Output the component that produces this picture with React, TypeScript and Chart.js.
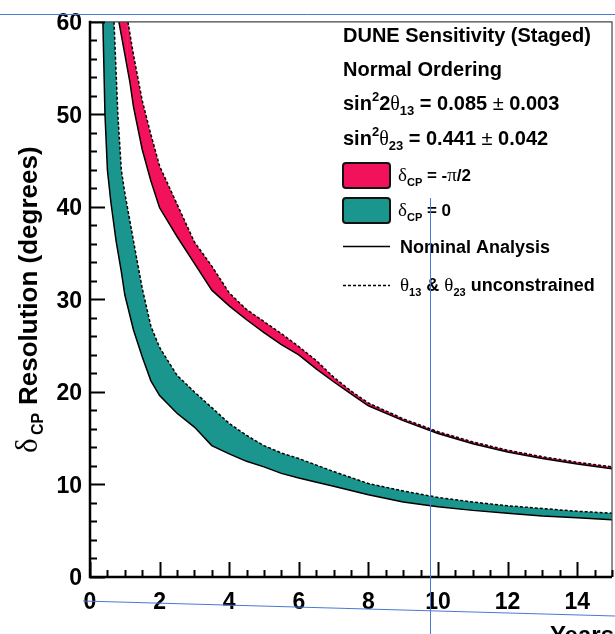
import React, { useEffect, useRef } from "react";
import { Chart, registerables } from "chart.js";
Chart.register(...registerables);

// ---- data (years vs delta_CP resolution in degrees) ----
const tealNominalX = [0.37, 0.43, 0.5, 0.6, 0.75, 0.9, 1.0, 1.25, 1.5, 1.75, 2.0, 2.5, 3.0, 3.5, 4.0, 4.5, 5.0, 5.5, 6.0, 7.0, 8.0, 9.0, 10.0, 11.0, 12.0, 13.0, 14.0, 15.0];
const tealNominalY = [60, 50, 44, 40.5, 36.3, 33, 30.5, 26.7, 23.8, 21.2, 19.6, 17.7, 16.2, 14.2, 13.3, 12.5, 11.9, 11.2, 10.7, 9.8, 8.9, 8.1, 7.6, 7.2, 6.9, 6.6, 6.4, 6.2];

const tealUnconX = [0.69, 0.8, 0.9, 1.0, 1.25, 1.5, 1.75, 2.0, 2.5, 3.0, 3.5, 4.0, 4.5, 5.0, 5.5, 6.0, 7.0, 8.0, 9.0, 10.0, 11.0, 12.0, 13.0, 14.0, 15.0];
const tealUnconY = [60, 50, 44, 41.5, 36.3, 31.2, 27.1, 24.8, 21.8, 20.0, 18.3, 16.6, 15.3, 14.2, 13.4, 12.8, 11.4, 10.1, 9.3, 8.6, 8.1, 7.7, 7.4, 7.1, 6.9];

const pinkNominalX = [0.83, 1.0, 1.15, 1.25, 1.5, 1.75, 2.0, 2.5, 3.0, 3.5, 4.0, 4.5, 5.0, 5.5, 6.0, 6.5, 7.0, 7.5, 8.0, 9.0, 10.0, 11.0, 12.0, 13.0, 14.0, 15.0];
const pinkNominalY = [60, 56.5, 53.4, 50.8, 46.2, 42.8, 39.9, 36.8, 33.9, 31.0, 29.3, 27.8, 26.4, 25.1, 24.0, 22.5, 21.1, 19.8, 18.5, 16.9, 15.5, 14.4, 13.5, 12.8, 12.2, 11.7];

const pinkUnconX = [1.09, 1.25, 1.5, 1.75, 2.0, 2.5, 3.0, 3.5, 4.0, 4.5, 5.0, 5.5, 6.0, 6.5, 7.0, 7.5, 8.0, 9.0, 10.0, 11.0, 12.0, 13.0, 14.0, 15.0];
const pinkUnconY = [60, 56.4, 51.5, 47.8, 44.4, 40.3, 36.2, 33.6, 30.7, 28.9, 27.6, 26.3, 24.9, 23.4, 21.6, 20.1, 18.8, 17.1, 15.7, 14.6, 13.7, 13.0, 12.4, 11.9];

const xTickValues = [0, 2, 4, 6, 8, 10, 12, 14];
const yTickValues = [0, 10, 20, 30, 40, 50, 60];
const X_MIN = 0, X_MAX = 15, Y_MIN = 0, Y_MAX = 60;
const X_MINOR_STEP = 0.5, Y_MINOR_STEP = 2;

const headerLines = ["DUNE Sensitivity (Staged)", "Normal Ordering"];
const legendNominal = "Nominal Analysis";

const PINK = "#f2125c";
const TEAL = "#1a968f";
const SANS = '"Liberation Sans", Arial, Helvetica, sans-serif';
const SERIF = '"Liberation Serif", "Times New Roman", serif';

type Part = { t: string; font: string; dy?: number; dx?: number };
function drawRich(ctx: CanvasRenderingContext2D, x: number, y: number, parts: Part[]) {
  let cx = x;
  for (const p of parts) {
    ctx.font = p.font;
    cx += p.dx || 0;
    ctx.fillText(p.t, cx, y + (p.dy || 0));
    cx += ctx.measureText(p.t).width;
  }
}

const toPts = (xs: number[], ys: number[]) => xs.map((x, i) => ({ x, y: ys[i] }));

const decorPlugin = {
  id: "decor",
  afterDraw(chart: any) {
    const ctx: CanvasRenderingContext2D = chart.ctx;
    const { left, right, top, bottom } = chart.chartArea;
    const xs = chart.scales.x;
    const ys = chart.scales.y;
    ctx.save();
    // frame (top, right)
    ctx.strokeStyle = "#444";
    ctx.lineWidth = 1.2;
    ctx.beginPath();
    ctx.moveTo(left, top);
    ctx.lineTo(right, top);
    ctx.lineTo(right, bottom);
    ctx.stroke();
    // axes
    ctx.strokeStyle = "#000";
    ctx.lineWidth = 2.5;
    ctx.beginPath();
    ctx.moveTo(left, top - 1);
    ctx.lineTo(left, bottom);
    ctx.lineTo(right, bottom);
    ctx.stroke();
    // ticks inside
    ctx.lineWidth = 2;
    ctx.beginPath();
    for (let v = Y_MIN; v <= Y_MAX + 1e-9; v += Y_MINOR_STEP) {
      const py = Math.round(ys.getPixelForValue(v)) + 0.5;
      const major = yTickValues.includes(Math.round(v * 100) / 100);
      ctx.moveTo(left, py);
      ctx.lineTo(left + (major ? 15 : 7), py);
    }
    for (let v = X_MIN; v <= X_MAX + 1e-9; v += X_MINOR_STEP) {
      const px = Math.round(xs.getPixelForValue(v)) + 0.5;
      const major = xTickValues.includes(Math.round(v * 100) / 100);
      ctx.moveTo(px, bottom);
      ctx.lineTo(px, bottom - (major ? 15 : 7));
    }
    ctx.stroke();

    // axis titles
    ctx.fillStyle = "#000";
    ctx.textAlign = "left";
    ctx.textBaseline = "alphabetic";
    ctx.save();
    ctx.translate(37, 453);
    ctx.rotate(-Math.PI / 2);
    ctx.font = `31px ${SERIF}`;
    ctx.fillText("δ", 0, 0);
    ctx.font = `bold 16px ${SANS}`;
    ctx.fillText("CP", 18, 6);
    ctx.font = `bold 26px ${SANS}`;
    ctx.fillText("Resolution (degrees)", 48, 0);
    ctx.restore();

    ctx.font = `bold 24px ${SANS}`;
    ctx.textAlign = "right";
    ctx.fillText("Years", 614, 643);
    ctx.textAlign = "left";

    // legend / info block
    const lx = 343;
    const B20 = `bold 20px ${SANS}`;
    const B13 = `bold 13px ${SANS}`;
    const G20 = `20px ${SERIF}`;
    ctx.font = B20;
    ctx.fillText(headerLines[0], lx, 42);
    ctx.fillText(headerLines[1], lx, 76);
    drawRich(ctx, lx, 110, [
      { t: "sin", font: B20 },
      { t: "2", font: B13, dy: -9 },
      { t: "2", font: B20 },
      { t: "θ", font: G20 },
      { t: "13", font: B13, dy: 5 },
      { t: " = 0.085 ", font: B20 },
      { t: "±", font: `20px ${SANS}` },
      { t: " 0.003", font: B20 },
    ]);
    drawRich(ctx, lx, 145, [
      { t: "sin", font: B20 },
      { t: "2", font: B13, dy: -9 },
      { t: "θ", font: G20 },
      { t: "23", font: B13, dy: 5 },
      { t: " = 0.441 ", font: B20 },
      { t: "±", font: `20px ${SANS}` },
      { t: " 0.042", font: B20 },
    ]);

    const box = (y: number, color: string) => {
      ctx.beginPath();
      (ctx as any).roundRect ? (ctx as any).roundRect(lx, y, 47, 25, 3) : ctx.rect(lx, y, 47, 25);
      ctx.fillStyle = color;
      ctx.fill();
      ctx.lineWidth = 2;
      ctx.strokeStyle = "#111";
      ctx.stroke();
    };
    box(163, PINK);
    box(198, TEAL);
    ctx.fillStyle = "#000";
    const B17 = `bold 17px ${SANS}`;
    const B11 = `bold 11px ${SANS}`;
    const G18 = `19px ${SERIF}`;
    drawRich(ctx, 398, 181, [
      { t: "δ", font: G18 },
      { t: "CP", font: B11, dy: 5 },
      { t: " = -", font: B17 },
      { t: "π", font: G18 },
      { t: "/2", font: B17 },
    ]);
    drawRich(ctx, 398, 216, [
      { t: "δ", font: G18 },
      { t: "CP", font: B11, dy: 5 },
      { t: " = 0", font: B17 },
    ]);
    ctx.strokeStyle = "#000";
    ctx.lineWidth = 1.5;
    ctx.beginPath();
    ctx.moveTo(lx, 246.5);
    ctx.lineTo(lx + 47, 246.5);
    ctx.stroke();
    ctx.setLineDash([3, 2]);
    ctx.beginPath();
    ctx.moveTo(lx, 285.5);
    ctx.lineTo(lx + 47, 285.5);
    ctx.stroke();
    ctx.setLineDash([]);
    const B18 = `bold 18px ${SANS}`;
    ctx.font = B18;
    ctx.fillText(legendNominal, 400, 253);
    drawRich(ctx, 400, 291, [
      { t: "θ", font: G18 },
      { t: "13", font: B11, dy: 5 },
      { t: " & ", font: B18 },
      { t: "θ", font: G18 },
      { t: "23", font: B11, dy: 5 },
      { t: " unconstrained", font: B18 },
    ]);

    // thin blue guide lines present in the reference screenshot
    ctx.strokeStyle = "#4a78d2";
    ctx.lineWidth = 1;
    ctx.beginPath();
    ctx.moveTo(0, 14.5);
    ctx.lineTo(615, 14.5);
    ctx.moveTo(430.5, 198);
    ctx.lineTo(430.5, 634);
    ctx.moveTo(83, 601);
    ctx.lineTo(615, 616);
    ctx.stroke();
    ctx.restore();
  },
};

export default function App() {
  const ref = useRef<HTMLCanvasElement>(null);
  useEffect(() => {
    const canvas = ref.current!;
    const hideFirst = { borderColor: (c: any) => (c.p0DataIndex === 0 ? "rgba(0,0,0,0)" : undefined) };
    const common = { pointRadius: 0, borderColor: "#000", borderWidth: 1.5, tension: 0 };
    const chart = new Chart(canvas, {
      type: "line",
      data: {
        datasets: [
          {
            label: "δCP = 0 nominal",
            data: toPts(tealNominalX, tealNominalY),
            backgroundColor: TEAL,
            fill: "+1",
            ...common,
          },
          {
            label: "δCP = 0 unconstrained",
            data: [{ x: tealNominalX[0], y: Y_MAX }, ...toPts(tealUnconX, tealUnconY)],
            borderDash: [3, 2],
            fill: false,
            segment: hideFirst,
            ...common,
          },
          {
            label: "δCP = -π/2 nominal",
            data: toPts(pinkNominalX, pinkNominalY),
            backgroundColor: PINK,
            fill: "+1",
            ...common,
          },
          {
            label: "δCP = -π/2 unconstrained",
            data: [{ x: pinkNominalX[0], y: Y_MAX }, ...toPts(pinkUnconX, pinkUnconY)],
            borderDash: [3, 2],
            fill: false,
            segment: hideFirst,
            ...common,
          },
        ] as any,
      },
      options: {
        animation: false,
        responsive: false,
        maintainAspectRatio: false,
        devicePixelRatio: 1,
        layout: { padding: { top: 19, right: 3, left: 0, bottom: 0 } },
        plugins: {
          legend: { display: false },
          tooltip: { enabled: false },
          filler: { drawTime: "beforeDatasetsDraw" },
        } as any,
        scales: {
          x: {
            type: "linear",
            min: X_MIN,
            max: X_MAX,
            afterFit: (s: any) => { s.height = 57; },
            afterBuildTicks: (s: any) => { s.ticks = xTickValues.map((v) => ({ value: v })); },
            grid: { display: false, drawTicks: false },
            border: { display: false },
            ticks: {
              color: "#000",
              padding: 12,
              maxRotation: 0,
              autoSkip: false,
              font: { family: SANS, size: 23, weight: "bold" },
            },
          },
          y: {
            type: "linear",
            min: Y_MIN,
            max: Y_MAX,
            afterFit: (s: any) => { s.width = 90; },
            afterBuildTicks: (s: any) => { s.ticks = yTickValues.map((v) => ({ value: v })); },
            grid: { display: false, drawTicks: false },
            border: { display: false },
            ticks: {
              color: "#000",
              padding: 8,
              labelOffset: 2,
              autoSkip: false,
              font: { family: SANS, size: 23, weight: "bold" },
            },
          },
        } as any,
      },
      plugins: [decorPlugin],
    });
    return () => chart.destroy();
  }, []);
  return (
    <div style={{ position: "absolute", left: 0, top: 0, width: 615, height: 634, background: "#fff", overflow: "hidden" }}>
      <canvas ref={ref} width={615} height={634} style={{ display: "block", width: 615, height: 634 }} />
    </div>
  );
}
